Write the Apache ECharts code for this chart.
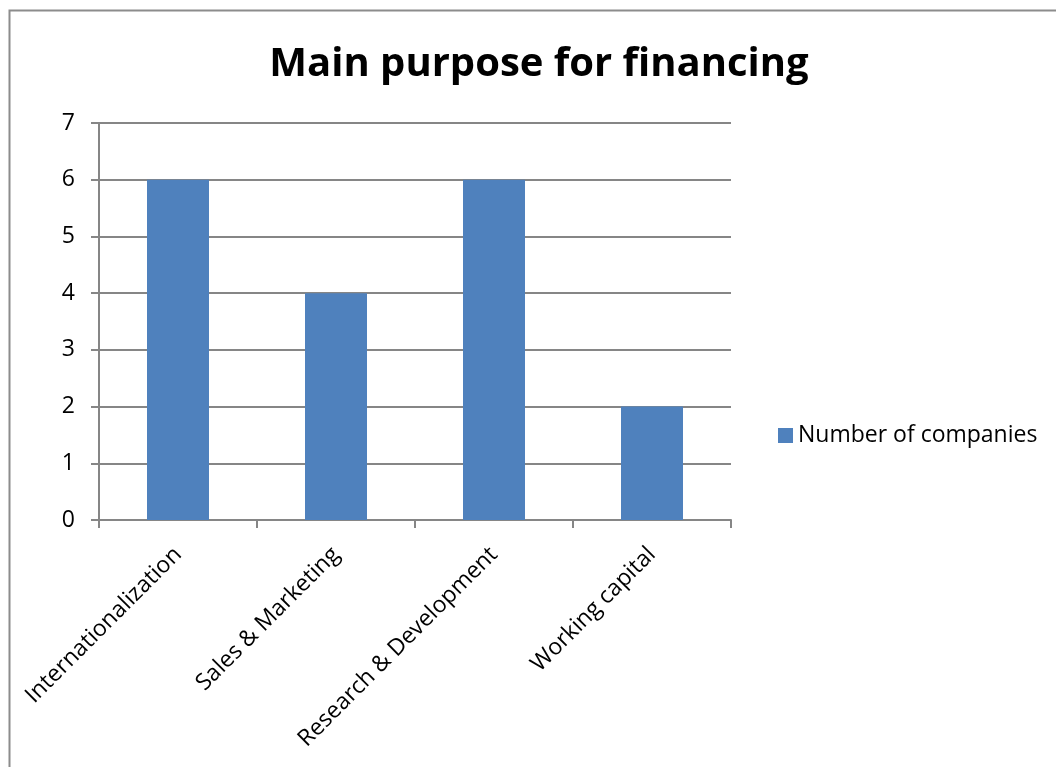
<!DOCTYPE html>
<html>
<head>
<meta charset="utf-8">
<title>Main purpose for financing</title>
<script src="https://cdn.jsdelivr.net/npm/echarts@6/dist/echarts.min.js"></script>
<style>
  html, body { margin: 0; padding: 0; background: #fff; }
  #chart { width: 1056px; height: 767px; }
</style>
</head>
<body>
<div id="chart"></div>
<script>
// Financing purposes and how many companies named each
const categories = ['Internationalization', 'Sales & Marketing', 'Research & Development', 'Working capital'];
const companies = [6, 4, 6, 2];
const seriesName = 'Number of companies';
const yTicks = { min: 0, max: 7, interval: 1 };

const font = '"Open Sans", "Noto Sans", sans-serif';
const gridColor = '#868686';

const chart = echarts.init(document.getElementById('chart'), null, { renderer: 'canvas' });

chart.setOption({
  backgroundColor: '#ffffff',
  animation: false,
  textStyle: { fontFamily: font },
  title: {
    text: 'Main purpose for financing',
    left: 534,
    top: 40,
    textAlign: 'center',
    textStyle: { fontFamily: font, fontWeight: 'bold', fontSize: 40, color: '#000' }
  },
  graphic: [{
    type: 'rect',
    shape: { x: 9.5, y: 10.5, width: 1200, height: 900 },
    style: { fill: 'none', stroke: '#8c8c8c', lineWidth: 2 },
    silent: true
  }],
  legend: {
    data: [seriesName],
    left: 773,
    top: 419,
    icon: 'rect',
    itemWidth: 15,
    itemHeight: 15,
    textStyle: { fontFamily: font, fontSize: 23, color: '#000' }
  },
  grid: { left: 99, right: 325, top: 123, bottom: 247, containLabel: false },
  xAxis: {
    type: 'category',
    data: categories,
    axisLine: { show: true, lineStyle: { color: gridColor, width: 2 } },
    axisTick: { show: true, alignWithLabel: false, length: 8, lineStyle: { color: gridColor, width: 2 } },
    axisLabel: { interval: 0, rotate: 45, margin: 31, fontSize: 23, color: '#000', fontFamily: font }
  },
  yAxis: {
    type: 'value',
    min: yTicks.min,
    max: yTicks.max,
    interval: yTicks.interval,
    axisLine: { show: true, lineStyle: { color: gridColor, width: 2 } },
    axisTick: { show: true, length: 8, lineStyle: { color: gridColor, width: 2 } },
    splitLine: { show: true, lineStyle: { color: gridColor, width: 2 } },
    axisLabel: { margin: 24, fontSize: 23, color: '#000', fontFamily: font }
  },
  series: [{
    name: seriesName,
    type: 'bar',
    data: companies,
    barWidth: 62,
    itemStyle: { color: '#4F81BD' }
  }]
});
</script>
</body>
</html>
